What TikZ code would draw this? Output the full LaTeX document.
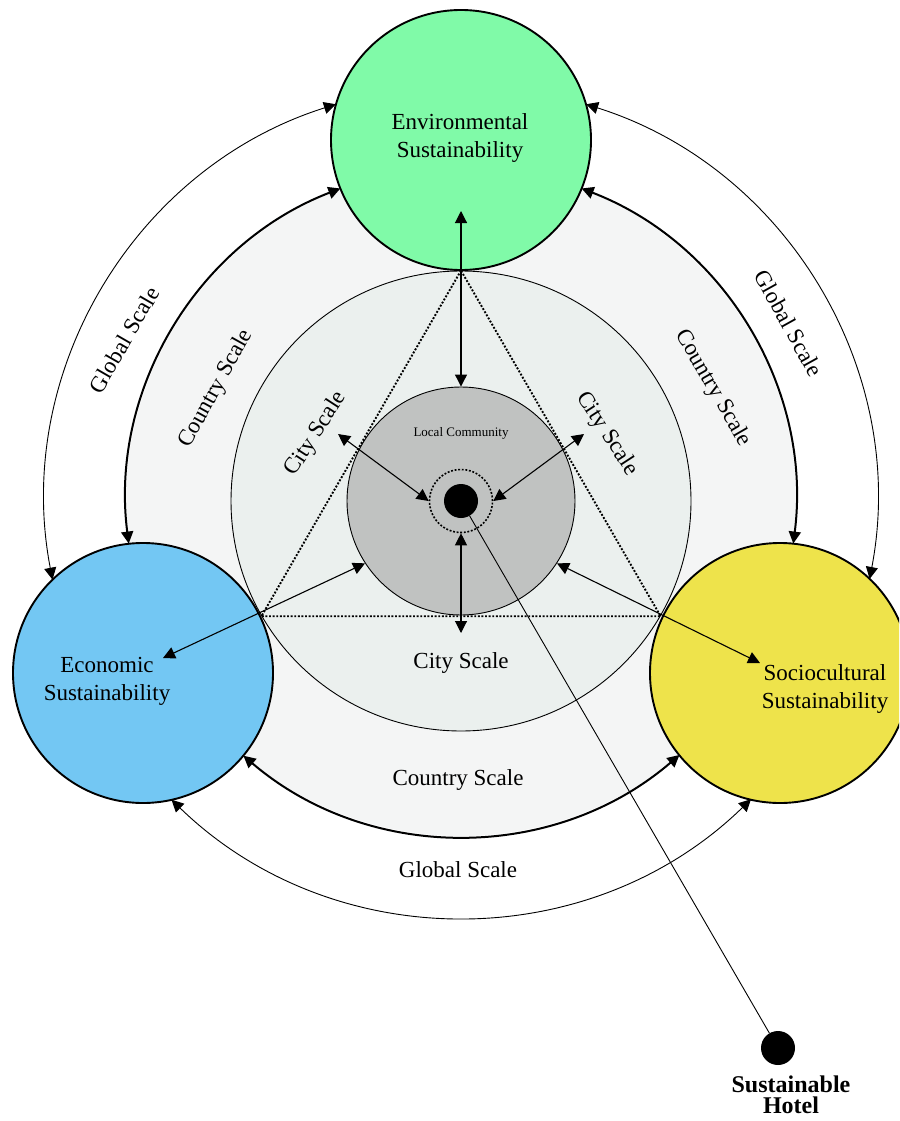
\documentclass[tikz,border=0pt]{standalone}
\usepackage{fontspec}
\setmainfont{Liberation Serif}
\usetikzlibrary{arrows.meta}

\definecolor{envgreen}{HTML}{80FAA8}
\definecolor{ecoblue}{HTML}{73C7F3}
\definecolor{socyellow}{HTML}{EEE34B}
\definecolor{localgray}{HTML}{C0C2C1}
\definecolor{cityfill}{HTML}{EBF0EE}
\definecolor{countryfill}{HTML}{F4F5F5}

\tikzset{
  pillar/.style={circle, draw=black, line width=1.9pt, minimum size=260pt, inner sep=0pt},
  ringdisc/.style={circle, draw=black, line width=0.9pt, inner sep=0pt},
  twohead/.style={{Triangle[length=12pt,width=12pt]}-{Triangle[length=12pt,width=12pt]}},
  globalarc/.style={twohead, line width=0.9pt},
  countryarc/.style={twohead, line width=2pt},
  linkarrow/.style={twohead, line width=1.1pt},
  txt/.style={font=\fontsize{23}{28}\selectfont, align=center, inner sep=0pt},
  dotline/.style={line width=1.9pt, dash pattern=on 1.9pt off 1.7pt},
  blackdot/.style={circle, fill=black, minimum size=34pt, inner sep=0pt},
}

\begin{document}
\begin{tikzpicture}[x=1pt,y=1pt]
\useasboundingbox (0,0) rectangle (899,-1121);
\clip (0,0) rectangle (899,-1121);
\fill[white] (0,0) rectangle (899,-1121);

\coordinate (O) at (461,-501);

% nested scales: country band, city disc, local community
\fill[countryfill] (O) circle[radius=335];
\node[ringdisc, fill=cityfill, minimum size=460pt] (city) at (O) {};
\node[ringdisc, fill=localgray, minimum size=228pt] (local) at (O) {};

% triangle joining the three pillars
\draw[dotline] (city.90) -- (city.210) -- (city.330) -- cycle;

% the three pillars of sustainability
\node[pillar, fill=envgreen] (env) at (461,-140) {};
\node[pillar, fill=ecoblue] (eco) at (143,-673) {};
\node[pillar, fill=socyellow] (soc) at (780,-673) {};

% global scale arcs
\draw[globalarc] ([shift={(190.9:416)}]O) arc[start angle=190.9, end angle=107.5, radius=416];
\draw[globalarc] ([shift={(72.5:416)}]O) arc[start angle=72.5, end angle=-10.8, radius=416];
\draw[globalarc] ([shift={(225.9:416)}]O) arc[start angle=225.9, end angle=314.2, radius=416];

% country scale arcs
\draw[countryarc] ([shift={(187.3:335)}]O) arc[start angle=187.3, end angle=111.1, radius=335];
\draw[countryarc] ([shift={(68.9:335)}]O) arc[start angle=68.9, end angle=-7.3, radius=335];
\draw[countryarc] ([shift={(229.5:335)}]O) arc[start angle=229.5, end angle=310.7, radius=335];

% hotel at the centre of the local community
\node[circle, draw=black, dotline, line width=1.6pt, minimum size=63pt, inner sep=0pt] (halo) at (O) {};
\node[blackdot] (core) at (O) {};

% city scale links
\coordinate (envtip) at (461,-211);
\coordinate (citybelow) at (461,-633);
\coordinate (ulout) at (338,-434);
\coordinate (urout) at (584,-434);
\coordinate (ecotip) at (163,-658);
\coordinate (soctip) at (760,-663);
\draw[linkarrow] (envtip) -- (local.north);
\draw[linkarrow] (halo.south) -- (citybelow);
\draw[linkarrow] (ulout) -- (halo.west);
\draw[linkarrow] (urout) -- (halo.east);
\draw[linkarrow] (ecotip) -- (local.213);
\draw[linkarrow] (local.327) -- (soctip);

% sustainable hotel
\node[blackdot] (hotel) at (778,-1048) {};
\draw[line width=0.9pt] (core) -- (hotel);
\node[font=\bfseries\fontsize{24}{21}\selectfont, align=center, inner sep=0pt] (hoteltxt) at (791,-1095) {Sustainable\\Hotel};

% pillar names
\node[txt] (envtxt) at (460,-138) {Environmental\\Sustainability};
\node[txt] (ecotxt) at (107,-681) {Economic\\Sustainability};
\node[txt] (soctxt) at (825,-689) {Sociocultural\\Sustainability};

% scale names
\node[font=\fontsize{13}{15}\selectfont, inner sep=0pt] (localtxt) at (461,-433) {Local Community};
\node[txt] (cityb) at (461,-663) {City Scale};
\node[txt, rotate=57] (cityl) at (316,-434) {City Scale};
\node[txt, rotate=-57] (cityr) at (607,-434) {City Scale};
\node[txt] (countryb) at (458,-780) {Country Scale};
\node[txt, rotate=61] (countryl) at (216,-389) {Country Scale};
\node[txt, rotate=-60] (countryr) at (713,-388) {Country Scale};
\node[txt] (globalb) at (458,-870) {Global Scale};
\node[txt, rotate=60] (globall) at (124,-340) {Global Scale};
\node[txt, rotate=-61] (globalr) at (789,-323) {Global Scale};
\end{tikzpicture}
\end{document}
